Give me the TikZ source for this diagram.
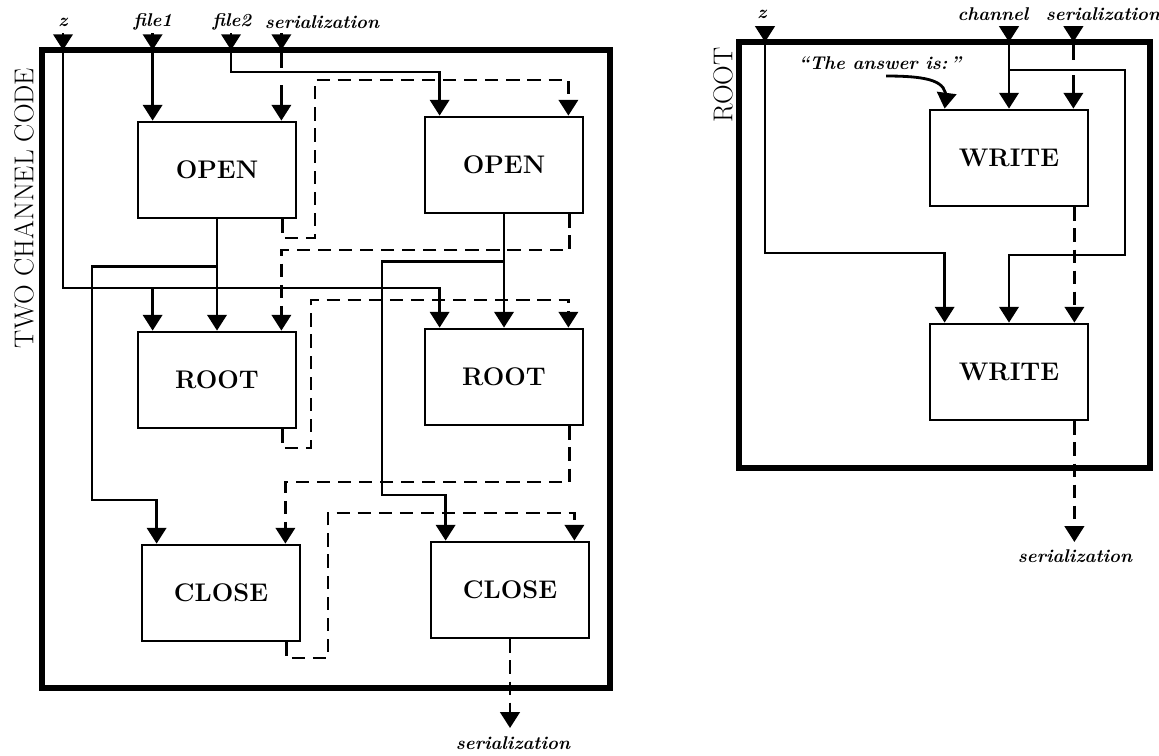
\documentclass[tikz,border=0pt]{standalone}
\usetikzlibrary{arrows.meta, calc, positioning}

\begin{document}
\begin{tikzpicture}[
    x=0.02cm, y=-0.02cm,
    box/.style={draw, line width=1.6pt, minimum width=3.16cm, minimum height=1.92cm,
                inner sep=0pt, font=\fontsize{14.5}{17}\selectfont\bfseries},
    frame/.style={draw, line width=3pt, outer sep=0pt, inner sep=0pt},
    lbl/.style={font=\fontsize{10.5}{12}\selectfont\bfseries\itshape, inner sep=1pt},
    title/.style={rotate=90, font=\fontsize{15.5}{18}\selectfont},
    arr/.style={line width=1.6pt, -{Triangle[width=11pt, length=9pt]}},
    ser/.style={arr, dash pattern=on 7.5pt off 4.5pt}
  ]
  \useasboundingbox (0,0) rectangle (1159,755);

  % two channel code
  \node[frame, minimum width=11.36cm, minimum height=12.76cm] (twoch) at (326,369) {};
  \node[title] (twotitle) at (24,208) {TWO CHANNEL CODE};
  \node[box] (open1)  at (217,170) {OPEN};
  \node[box] (open2)  at (504,165) {OPEN};
  \node[box] (root1)  at (217,380) {ROOT};
  \node[box] (root2)  at (504,377) {ROOT};
  \node[box] (close1) at (221,593) {CLOSE};
  \node[box] (close2) at (510,590) {CLOSE};

  % root
  \node[frame, minimum width=8.22cm, minimum height=8.52cm] (rootfr) at (944.5,255) {};
  \node[title] (roottitle) at (723,85) {ROOT};
  \node[box] (write1) at (1009,158) {WRITE};
  \node[box] (write2) at (1009,372) {WRITE};

  \foreach \b in {open1,open2,root1,root2,close1,close2,write1,write2} {
    \coordinate (\b-inl)  at ($(\b.north west)+(16,0)$);
    \coordinate (\b-inr)  at ($(\b.north east)+(-16,0)$);
    \coordinate (\b-outr) at ($(\b.south east)+(-15,0)$);
  }

  \node[lbl] (zlbl)  at (63,22)  {z};
  \node[lbl] (f1lbl) at (153,22) {file1};
  \node[lbl] (f2lbl) at (232,22) {file2};
  \node[lbl] (slbl)  at (322,22) {serialization};
  \coordinate (zin)  at (63,33);
  \coordinate (f1in) at (open1-inl |- 0,33);
  \coordinate (f2in) at (231,33);
  \coordinate (sin)  at (open1-inr |- 0,33);
  \foreach \p in {zin,f1in,f2in,sin}
    \draw[arr] (\p) -- (\p |- twoch.north);

  \draw[arr] (zin |- twoch.north) |- (root2-inl |- 0,288) -- (root2-inl);
  \draw[arr] (root1-inl |- 0,288) -- (root1-inl);
  \draw[arr] (f1in |- twoch.north) -- (open1-inl);
  \draw[arr] (f2in |- twoch.north) |- (open2-inl |- 0,72) -- (open2-inl);
  \draw[arr] (sin |- twoch.north) -- ++(0,18) ++(0,17) -- (open1-inr);

  \draw[arr] (open1.south) -- (root1.north);
  \draw[arr] ($(open1.south)+(0,47)$) -| (92,500) -| (close1-inl);
  \draw[ser] (open1-outr) |- (315,238) |- (open2-inr |- 0,80) -- (open2-inr);
  \draw[arr] (open2.south) -- (root2.north);
  \draw[arr] ($(open2.south)+(0,47)$) -| (382,495) -| (close2-inl);
  \draw[ser] (open2-outr) |- (root1-inr |- 0,250) -- (root1-inr);
  \draw[ser] (root1-outr) |- (311,448) |- (root2-inr |- 0,300) -- (root2-inr);
  \draw[ser] (root2-outr) |- (close1-inr |- 0,482) -- (close1-inr);
  \draw[ser] (close1-outr) |- (328,658) |- (close2-inr |- 0,513) -- (close2-inr);
  \coordinate (sout) at (close2.south |- 0,728);
  \draw[ser] (close2.south) -- (sout);
  \node[lbl] (soutlbl) at (513,743) {serialization};

  \node[lbl] (z2lbl) at (762,14)  {z};
  \node[lbl] (chlbl) at (993,14)  {channel};
  \node[lbl] (s2lbl) at (1103,14) {serialization};
  \coordinate (z2in) at (765,26);
  \coordinate (chin) at (write1.north |- 0,26);
  \coordinate (s2in) at (write1-inr |- 0,26);
  \foreach \p in {z2in,chin,s2in}
    \draw[arr] (\p) -- (\p |- rootfr.north);

  \draw[arr] (z2in |- rootfr.north) |- (write2-inl |- 0,253) -- (write2-inl);
  \draw[arr] (chin |- rootfr.north) -- (write1.north);
  \draw[arr] (write1.north |- 0,70) -| (1125,255) -| (write2.north);
  \draw[arr] (s2in |- rootfr.north) -- ++(0,18) ++(0,15) -- (write1-inr);
  \node[lbl] (answer) at (880,63) {``The answer is:\,''};
  \draw[arr] (886,76) .. controls (932,76) and (946,82) .. (946,98) -- (write1-inl);
  \draw[ser] (write1-outr) -- (write1-outr |- write2.north);
  \coordinate (s2out) at (write2-outr |- 0,542);
  \draw[ser] (write2-outr) -- (s2out);
  \node[lbl] (s2outlbl) at (1075,556) {serialization};
\end{tikzpicture}
\end{document}
